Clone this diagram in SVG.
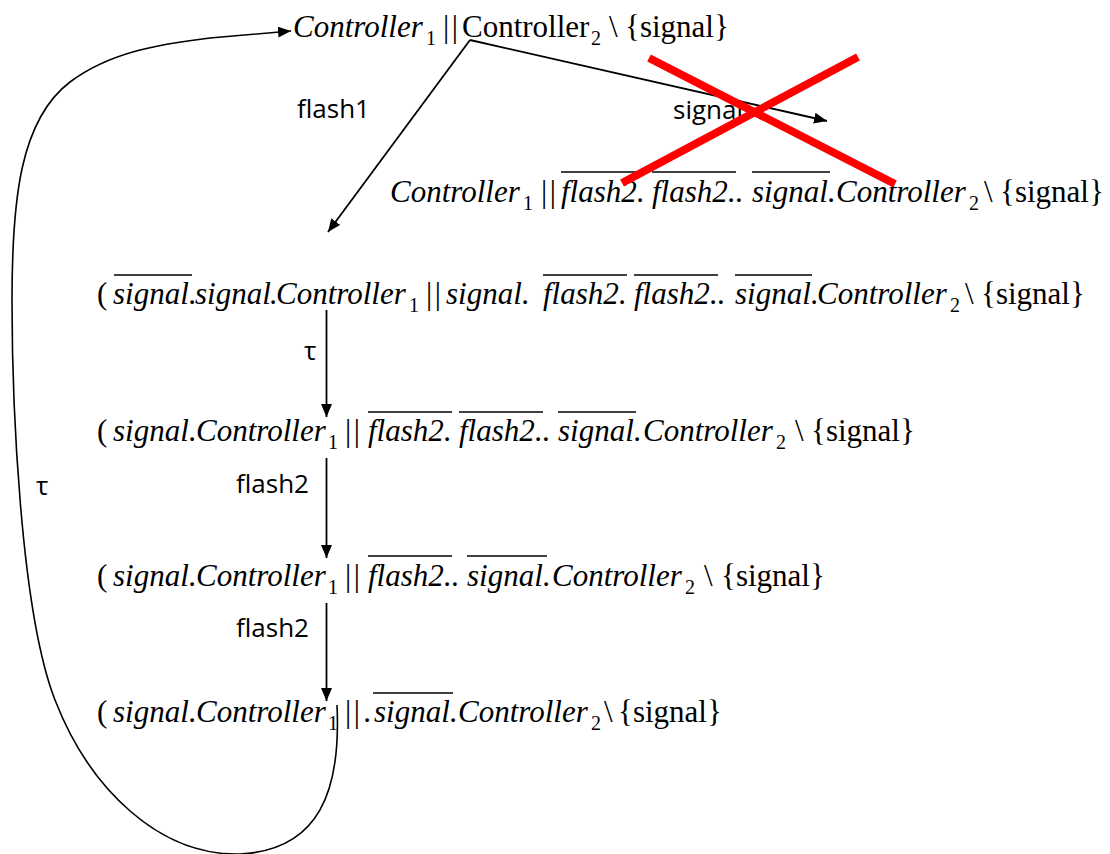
<svg xmlns="http://www.w3.org/2000/svg" width="1110" height="854" viewBox="0 0 1110 854">
<defs>
<marker id="ah" viewBox="0 0 13 11" refX="13" refY="5.5" markerWidth="13" markerHeight="11" markerUnits="userSpaceOnUse" orient="auto">
<path d="M0,0 L13,5.5 L0,11 z" fill="#000"/>
</marker>
<style>
.m { font-family: 'Liberation Serif', 'Times New Roman', serif; font-size: 31px; fill: #000; }
.i { font-style: italic; }
.s { font-size: 20px; font-style: normal; }
.b { letter-spacing: 2.5px; }
.lbl { font-family: 'Open Sans', 'Liberation Sans', sans-serif; font-size: 26px; fill: #000; }
.ol { stroke: #000; stroke-width: 1.5; }
.conn { stroke: #000; stroke-width: 1.8; fill: none; marker-end: url(#ah); }
.curve { stroke: #000; stroke-width: 1.6; fill: none; marker-end: url(#ah); }
.x { stroke: #ff0000; stroke-width: 8; stroke-linecap: butt; }
</style>
</defs>
<rect width="1110" height="854" fill="#fff"/>

<g id="state0">
<text class="m" y="37"><tspan class="i" x="293">Controller</tspan><tspan class="s" x="426" y="45">1</tspan><tspan class="b" x="443" y="37">||</tspan><tspan x="462">Controller</tspan><tspan class="s" x="591" y="45">2</tspan><tspan x="609" y="37">\</tspan><tspan x="625">{signal}</tspan></text>
</g>

<g id="state-signal">
<text class="m" y="202"><tspan class="i" x="390">Controller</tspan><tspan class="s" x="523" y="210">1</tspan><tspan class="b" x="541" y="202">||</tspan><tspan class="i" x="561">flash2</tspan><tspan class="i" x="637">.</tspan><tspan class="i" x="652">flash2</tspan><tspan class="i" x="728">..</tspan><tspan class="i" x="752">signal</tspan><tspan class="i" x="828">.</tspan><tspan class="i" x="836">Controller</tspan><tspan class="s" x="969" y="210">2</tspan><tspan x="984" y="202">\</tspan><tspan x="1000">{signal}</tspan></text>
<line class="ol" x1="561" y1="172" x2="649" y2="172"/>
<line class="ol" x1="652" y1="172" x2="736" y2="172"/>
<line class="ol" x1="752" y1="172" x2="830" y2="172"/>
</g>

<g id="state1">
<text class="m" y="304"><tspan x="97">(</tspan><tspan class="i" x="113">signal</tspan><tspan class="i" x="189">.</tspan><tspan class="i" x="195">signal</tspan><tspan class="i" x="270">.</tspan><tspan class="i" x="276">Controller</tspan><tspan class="s" x="409" y="312">1</tspan><tspan class="b" x="426" y="304">||</tspan><tspan class="i" x="446">signal</tspan><tspan class="i" x="522">.</tspan><tspan class="i" x="543">flash2</tspan><tspan class="i" x="619">.</tspan><tspan class="i" x="634">flash2</tspan><tspan class="i" x="710">..</tspan><tspan class="i" x="735">signal</tspan><tspan class="i" x="811">.</tspan><tspan class="i" x="817">Controller</tspan><tspan class="s" x="950" y="312">2</tspan><tspan x="965" y="304">\</tspan><tspan x="981">{signal}</tspan></text>
<line class="ol" x1="114" y1="275" x2="192" y2="275"/>
<line class="ol" x1="543" y1="275" x2="627" y2="275"/>
<line class="ol" x1="634" y1="275" x2="718" y2="275"/>
<line class="ol" x1="735" y1="275" x2="812" y2="275"/>
</g>

<g id="state2">
<text class="m" y="441"><tspan x="97">(</tspan><tspan class="i" x="113">signal</tspan><tspan class="i" x="189">.</tspan><tspan class="i" x="196">Controller</tspan><tspan class="s" x="328" y="449">1</tspan><tspan class="b" x="345" y="441">||</tspan><tspan class="i" x="368">flash2</tspan><tspan class="i" x="444">.</tspan><tspan class="i" x="459">flash2</tspan><tspan class="i" x="535">..</tspan><tspan class="i" x="558">signal</tspan><tspan class="i" x="634">.</tspan><tspan class="i" x="643">Controller</tspan><tspan class="s" x="776" y="449">2</tspan><tspan x="795" y="441">\</tspan><tspan x="811">{signal}</tspan></text>
<line class="ol" x1="368" y1="412" x2="452" y2="412"/>
<line class="ol" x1="459" y1="412" x2="543" y2="412"/>
<line class="ol" x1="558" y1="412" x2="636" y2="412"/>
</g>

<g id="state3">
<text class="m" y="586"><tspan x="97">(</tspan><tspan class="i" x="113">signal</tspan><tspan class="i" x="189">.</tspan><tspan class="i" x="196">Controller</tspan><tspan class="s" x="328" y="594">1</tspan><tspan class="b" x="345" y="586">||</tspan><tspan class="i" x="368">flash2</tspan><tspan class="i" x="444">..</tspan><tspan class="i" x="467">signal</tspan><tspan class="i" x="543">.</tspan><tspan class="i" x="552">Controller</tspan><tspan class="s" x="685" y="594">2</tspan><tspan x="704" y="586">\</tspan><tspan x="721">{signal}</tspan></text>
<line class="ol" x1="368" y1="556" x2="452" y2="556"/>
<line class="ol" x1="467" y1="556" x2="547" y2="556"/>
</g>

<g id="state4">
<text class="m" y="722"><tspan x="97">(</tspan><tspan class="i" x="113">signal</tspan><tspan class="i" x="189">.</tspan><tspan class="i" x="196">Controller</tspan><tspan class="s" x="328" y="730">1</tspan><tspan class="b" x="345" y="722">||</tspan><tspan class="i" x="364">.</tspan><tspan class="i" x="374">signal</tspan><tspan class="i" x="450">.</tspan><tspan class="i" x="458">Controller</tspan><tspan class="s" x="591" y="730">2</tspan><tspan x="604" y="722">\</tspan><tspan x="618">{signal}</tspan></text>
<line class="ol" x1="373" y1="693" x2="453" y2="693"/>
</g>

<g id="connectors">
<path class="conn" d="M470,40 L328,232"/>
<path class="conn" d="M470,40 L827,121"/>
<path class="conn" d="M326.5,310 L326.5,417"/>
<path class="conn" d="M326.5,458 L326.5,558"/>
<path class="conn" d="M326.5,603 L326.5,701"/>
<path class="curve" d="M337,705 C341,790 320,850 240,854 C160,856 90,790 55,700 C20,610 12,400 12,300 C12,200 20,120 70,82 C110,52 160,44 210,38 L291,31"/>
</g>

<g id="labels">
<text class="lbl" x="297" y="118">flash1</text>
<text class="lbl" x="673" y="119">signal</text>
<text class="lbl" x="304" y="360">τ</text>
<text class="lbl" x="236" y="493">flash2</text>
<text class="lbl" x="36" y="495">τ</text>
<text class="lbl" x="236" y="637">flash2</text>
</g>

<g id="cross">
<line class="x" x1="649" y1="58" x2="895" y2="184"/>
<line class="x" x1="858" y1="57" x2="622" y2="183"/>
</g>
</svg>
